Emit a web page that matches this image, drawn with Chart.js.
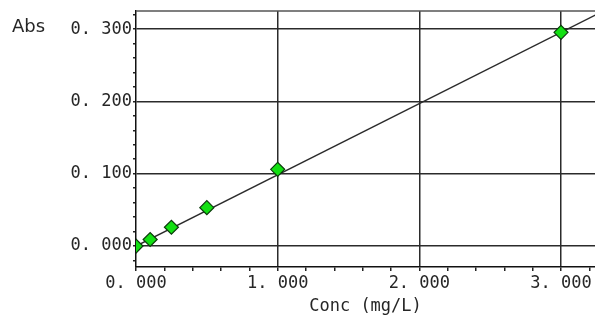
<!DOCTYPE html>
<html>
<head>
<meta charset="utf-8">
<script src="https://cdn.jsdelivr.net/npm/chart.js@4/dist/chart.umd.min.js"></script>
<style>
  html, body { margin: 0; padding: 0; background: #fff; overflow: hidden; }
  #wrap { width: 595px; height: 320px; position: relative; }
  canvas { display: block; }
</style>
</head>
<body>
<div id="wrap"><canvas id="c" width="595" height="320" style="width:595px;height:320px"></canvas></div>
<script>
// ---- data ----
const concValues = [0, 0.1, 0.25, 0.5, 1.0, 3.0];          // Conc (mg/L)
const absValues  = [0.000, 0.009, 0.026, 0.053, 0.106, 0.2955]; // Abs
const fitX = [0, 3.3];
const fitY = [0.000, 0.325];
const xMajorValues = [0, 1, 2, 3];
const xTickLabels  = ['0. 000', '1. 000', '2. 000', '3. 000'];
const yMajorValues = [0, 0.1, 0.2, 0.3];
const yTickLabels  = ['0. 000', '0. 100', '0. 200', '0. 300'];
const xMinorStep = 0.2;
const yMinorStep = 0.02;

const monoFont = { family: "'DejaVu Sans Mono', 'Liberation Mono', monospace", size: 17 };
const ink = '#262626';

function majorIndex(list, v) {
  return list.findIndex(m => Math.abs(m - v) < 1e-6);
}
function minorTicks(min, max, step) {
  const out = [];
  const n0 = Math.ceil(min / step - 1e-6), n1 = Math.floor(max / step + 1e-6);
  for (let i = n0; i <= n1; i++) out.push({ value: +(i * step).toFixed(6) });
  return out;
}

const framePlugin = {
  id: 'frame',
  afterDraw(chart) {
    const { ctx, chartArea: a } = chart;
    ctx.save();
    ctx.strokeStyle = '#555';
    ctx.lineWidth = 1.5;
    ctx.beginPath();
    ctx.moveTo(a.left, a.top);
    ctx.lineTo(a.right + 2, a.top);
    ctx.stroke();
    // y-axis unit label "Abs"
    const y = chart.scales.y.getPixelForValue(yMajorValues[yMajorValues.length - 1]);
    ctx.fillStyle = ink;
    ctx.font = "18px 'DejaVu Sans', sans-serif";
    ctx.textAlign = 'left';
    ctx.textBaseline = 'alphabetic';
    ctx.fillText('Abs', 12, y + 3);
    ctx.restore();
  }
};

new Chart(document.getElementById('c'), {
  type: 'scatter',
  data: {
    datasets: [
      {
        type: 'line',
        data: fitX.map((x, i) => ({ x, y: fitY[i] })),
        borderColor: '#2b2b2b',
        borderWidth: 1.5,
        pointRadius: 0,
        fill: false,
        clip: 0,
        order: 2
      },
      {
        data: concValues.map((x, i) => ({ x, y: absValues[i] })),
        pointStyle: 'rectRot',
        pointRadius: 7,
        pointHoverRadius: 7,
        backgroundColor: '#12e012',
        borderColor: '#0b3b0b',
        borderWidth: 1.2,
        clip: 0,
        order: 1
      }
    ]
  },
  options: {
    responsive: false,
    maintainAspectRatio: false,
    devicePixelRatio: 1,
    animation: false,
    events: [],
    layout: { autoPadding: false, padding: { left: 0, right: 0, top: 11, bottom: 0 } },
    plugins: { legend: { display: false }, tooltip: { enabled: false } },
    scales: {
      x: {
        type: 'linear',
        min: 0,
        max: 3.24,
        afterFit(s) { s.height = 53; s.paddingLeft = 0; s.paddingRight = 0; },
        afterBuildTicks(s) { s.ticks = minorTicks(0, 3.2, xMinorStep); },
        border: { display: true, color: '#111', width: 1.5 },
        grid: {
          drawTicks: true,
          tickLength: 4,
          lineWidth: 1.5,
          color: c => majorIndex(xMajorValues, c.tick.value) > 0 ? '#2b2b2b' : 'rgba(0,0,0,0)',
          tickColor: '#222',
          tickWidth: 1.5
        },
        ticks: {
          autoSkip: false,
          maxRotation: 0,
          padding: 2,
          color: ink,
          font: monoFont,
          callback: v => { const i = majorIndex(xMajorValues, v); return i >= 0 ? xTickLabels[i] : ''; }
        },
        title: {
          display: true,
          text: 'Conc (mg/L)',
          color: ink,
          font: monoFont,
          padding: { top: 0, bottom: 3 }
        }
      },
      y: {
        type: 'linear',
        min: -0.029,
        max: 0.325,
        afterFit(s) { s.width = 136; s.paddingTop = 0; s.paddingBottom = 0; },
        afterBuildTicks(s) { s.ticks = minorTicks(-0.02, 0.32, yMinorStep); },
        border: { display: true, color: '#111', width: 1.5 },
        grid: {
          drawTicks: true,
          tickLength: 3,
          lineWidth: 1.5,
          color: c => majorIndex(yMajorValues, c.tick.value) >= 0 ? '#2b2b2b' : 'rgba(0,0,0,0)',
          tickColor: '#222',
          tickWidth: 1.5
        },
        ticks: {
          autoSkip: false,
          padding: 1,
          color: ink,
          font: monoFont,
          callback: v => { const i = majorIndex(yMajorValues, v); return i >= 0 ? yTickLabels[i] : ''; }
        }
      }
    }
  },
  plugins: [framePlugin]
});
</script>
</body>
</html>
